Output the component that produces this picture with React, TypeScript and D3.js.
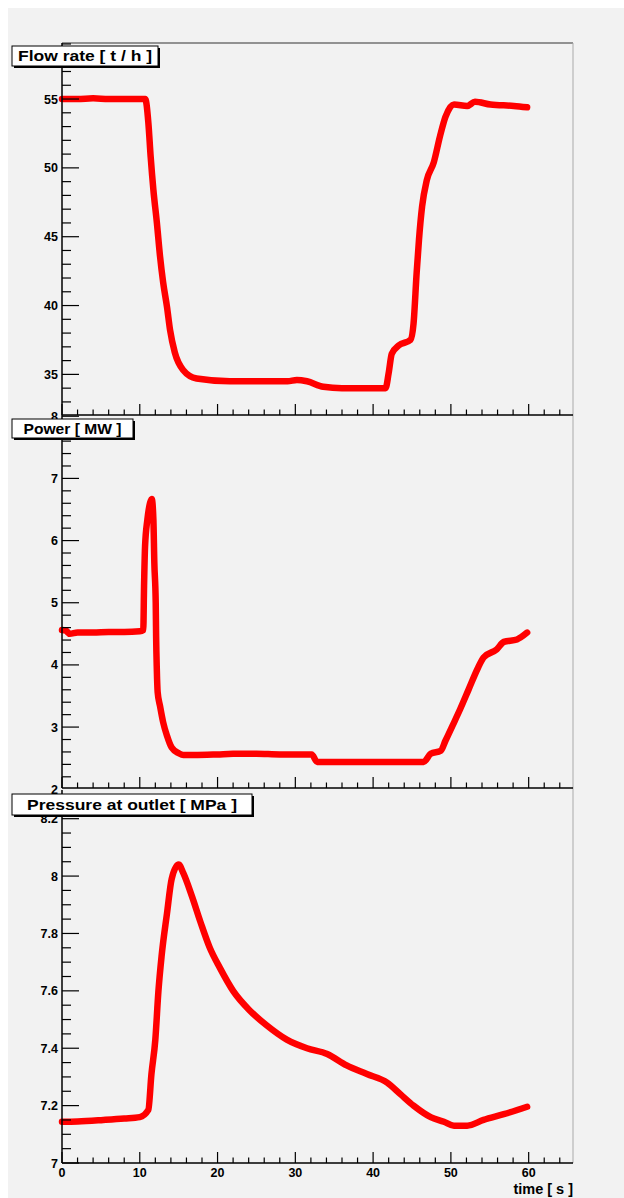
import React from "react";
import * as d3 from "d3";

// ---------- data ----------
const timeMajorTicks = [0, 10, 20, 30, 40, 50, 60];
const timeMinorTicks = [2, 4, 6, 8, 12, 14, 16, 18, 22, 24, 26, 28, 32, 34, 36, 38, 42, 44, 46, 48, 52, 54, 56, 58, 62, 64];

const flowTime = [0, 2, 4, 6, 8, 10, 10.7, 11.1, 11.4, 11.75, 12.2, 12.6, 13.0, 13.5, 13.9, 14.5, 15.6, 17.3, 21.6, 25.9, 29.0, 30.2, 31.5, 33.6, 36, 39.6, 41.6, 42.0, 42.4, 43.3, 44.8, 45.2, 45.6, 45.9, 46.3, 46.9, 47.8, 48.6, 49.3, 50.4, 52.1, 53.1, 55.1, 58.1, 59.8];
const flowValue = [55.0, 55.0, 55.05, 55.0, 55.0, 55.0, 55.0, 53.3, 50.8, 48.4, 46.0, 43.6, 41.7, 39.9, 38.2, 36.6, 35.3, 34.7, 34.5, 34.5, 34.5, 34.6, 34.5, 34.1, 34.0, 34.0, 34.0, 35.1, 36.5, 37.1, 37.5, 38.7, 42.4, 44.8, 47.2, 49.1, 50.4, 52.3, 53.7, 54.6, 54.5, 54.8, 54.6, 54.5, 54.4];
const flowMajorTicks = [35, 40, 45, 50, 55];
const flowMinorTicks = [33, 34, 36, 37, 38, 39, 41, 42, 43, 44, 46, 47, 48, 49, 51, 52, 53, 54, 56, 57, 58, 59];

const powerTime = [0, 0.5, 1, 2, 4, 6, 8, 10, 10.45, 10.55, 10.68, 10.98, 11.33, 11.54, 11.75, 11.87, 12.05, 12.1, 12.19, 12.3, 12.6, 13.0, 13.5, 14.1, 15.0, 15.6, 17, 20, 22, 25, 28, 32.1, 32.8, 36, 40, 44, 46.5, 47.4, 48.7, 49.3, 50.2, 51.2, 52.3, 53.4, 54.2, 55.9, 56.8, 58.5, 59.8];
const powerValue = [4.56, 4.55, 4.50, 4.52, 4.52, 4.53, 4.53, 4.54, 4.56, 5.27, 5.91, 6.34, 6.61, 6.67, 6.34, 5.65, 5.0, 4.47, 3.93, 3.56, 3.34, 3.08, 2.86, 2.67, 2.58, 2.55, 2.55, 2.56, 2.57, 2.57, 2.56, 2.56, 2.44, 2.44, 2.44, 2.44, 2.44, 2.57, 2.62, 2.78, 3.02, 3.29, 3.61, 3.93, 4.12, 4.25, 4.37, 4.41, 4.52];
const powerMajorTicks = [2, 3, 4, 5, 6, 7, 8];
const powerMinorTicks = [2.2, 2.4, 2.6, 2.8, 3.2, 3.4, 3.6, 3.8, 4.2, 4.4, 4.6, 4.8, 5.2, 5.4, 5.6, 5.8, 6.2, 6.4, 6.6, 6.8, 7.2, 7.4, 7.6, 7.8];

const pressureTime = [0, 2, 5.3, 8, 10.0, 11.1, 11.5, 12.0, 12.4, 12.8, 13.5, 14.1, 15.0, 15.6, 16.7, 17.8, 19.0, 20.3, 22.0, 24.2, 26.3, 28.9, 31.5, 34.1, 36.6, 39.2, 41.8, 43.5, 45.2, 47.4, 49.1, 50.4, 52.1, 54.2, 56.8, 59.8];
const pressureValue = [7.144, 7.145, 7.15, 7.155, 7.16, 7.185, 7.31, 7.43, 7.60, 7.72, 7.87, 7.99, 8.04, 8.01, 7.93, 7.84, 7.75, 7.68, 7.60, 7.53, 7.48, 7.43, 7.40, 7.38, 7.34, 7.31, 7.28, 7.24, 7.20, 7.16, 7.144, 7.13, 7.13, 7.15, 7.17, 7.196];
const pressureMajorTicks = [7, 7.2, 7.4, 7.6, 7.8, 8, 8.2];
const pressureMinorTicks = [7.05, 7.1, 7.15, 7.25, 7.3, 7.35, 7.45, 7.5, 7.55, 7.65, 7.7, 7.75, 7.85, 7.9, 7.95, 8.05, 8.1, 8.15, 8.25];

const titles = ["Flow rate [ t / h ]", "Power [ MW ]", "Pressure at outlet [ MPa ]"];
const xTitle = "time [ s ]";

// ---------- layout ----------
const W = 624;
const H = 1198;
const X0 = 62;
const X1 = 573;
const FONT = "'Liberation Sans', Arial, Helvetica, sans-serif";

const xScale = d3.scaleLinear().domain([0, 65.7]).range([X0, X1]);

type PanelProps = {
  top: number;
  bottom: number;
  domain: [number, number];
  majors: number[];
  minors: number[];
  times: number[];
  values: number[];
  showXLabels: boolean;
};

function Panel({ top, bottom, domain, majors, minors, times, values, showXLabels }: PanelProps) {
  const y = d3.scaleLinear().domain(domain).range([bottom, top]);
  const pts = times.map((t, i) => [t, values[i]] as [number, number]);
  const line = d3
    .line<[number, number]>()
    .x((d) => xScale(d[0]))
    .y((d) => y(d[1]))
    .curve(d3.curveMonotoneX);
  const inDomain = (v: number) => v >= domain[0] - 1e-9 && v <= domain[1] + 1e-9;
  return (
    <g>
      <path d={line(pts) || ""} fill="none" stroke="#ff0000" strokeWidth={6.5} strokeLinejoin="round" strokeLinecap="round" />
      {/* y axis */}
      <line x1={X0} x2={X0} y1={top} y2={bottom} stroke="#000" strokeWidth={1.5} />
      {majors.filter(inDomain).map((v) => (
        <line key={"ym" + v} x1={X0} x2={X0 + 17} y1={y(v)} y2={y(v)} stroke="#000" strokeWidth={1.2} />
      ))}
      {minors.filter(inDomain).map((v) => (
        <line key={"yn" + v} x1={X0} x2={X0 + 9} y1={y(v)} y2={y(v)} stroke="#000" strokeWidth={1.2} />
      ))}
      {majors.map((v) => (
        <text key={"yl" + v} x={X0 - 4} y={y(v)} dy="0.36em" textAnchor="end" fontFamily={FONT} fontWeight="bold" fontSize={12.5} fill="#000">
          {String(v)}
        </text>
      ))}
      {/* x axis */}
      <line x1={X0} x2={X1} y1={bottom} y2={bottom} stroke="#000" strokeWidth={1.5} />
      {timeMajorTicks.map((t) => (
        <line key={"xm" + t} x1={xScale(t)} x2={xScale(t)} y1={bottom} y2={bottom - 11} stroke="#000" strokeWidth={1.2} />
      ))}
      {timeMinorTicks.map((t) => (
        <line key={"xn" + t} x1={xScale(t)} x2={xScale(t)} y1={bottom} y2={bottom - 5.5} stroke="#000" strokeWidth={1.2} />
      ))}
      {showXLabels &&
        timeMajorTicks.map((t) => (
          <text key={"xl" + t} x={xScale(t)} y={bottom + 13.5} textAnchor="middle" fontFamily={FONT} fontWeight="bold" fontSize={12.5} fill="#000">
            {String(t)}
          </text>
        ))}
    </g>
  );
}

function TitleBox({ x, y, w, h, tw, text }: { x: number; y: number; w: number; h: number; tw: number; text: string }) {
  return (
    <g>
      <rect x={x + 2} y={y + 2} width={w} height={h} fill="#000" />
      <rect x={x} y={y} width={w} height={h} fill="#fff" stroke="#000" strokeWidth={1} />
      <text
        x={x + w / 2}
        y={y + h / 2}
        dy="0.36em"
        textAnchor="middle"
        textLength={tw}
        lengthAdjust="spacingAndGlyphs"
        fontFamily={FONT}
        fontWeight="bold"
        fontSize={15}
        fill="#000"
      >
        {text}
      </text>
    </g>
  );
}

export default function App() {
  return (
    <svg width={W} height={H} style={{ position: "fixed", left: 0, top: 0, display: "block" }}>
      <rect x={0} y={0} width={W} height={H} fill="#fff" />
      <rect x={8} y={8} width={W - 8} height={H - 8} fill="#f2f2f2" />
      {/* frame top & right */}
      <line x1={X0} x2={X1} y1={43} y2={43} stroke="#333" strokeWidth={1.2} />
      <line x1={X1} x2={X1} y1={43} y2={1163} stroke="#aaa" strokeWidth={1} />

      <Panel top={43} bottom={415} domain={[32.05, 59.07]} majors={flowMajorTicks} minors={flowMinorTicks} times={flowTime} values={flowValue} showXLabels={false} />
      <TitleBox x={12} y={46} w={146} h={20} tw={134} text={titles[0]} />

      <Panel top={415} bottom={788} domain={[2.02, 8.02]} majors={powerMajorTicks} minors={powerMinorTicks} times={powerTime} values={powerValue} showXLabels={false} />
      <TitleBox x={12} y={419} w={121} h={19} tw={98} text={titles[1]} />

      <Panel top={790} bottom={1163} domain={[7.0, 8.3]} majors={pressureMajorTicks} minors={pressureMinorTicks} times={pressureTime} values={pressureValue} showXLabels={true} />
      <TitleBox x={12} y={794} w={240} h={21} tw={210} text={titles[2]} />

      <text x={X1} y={1194} textAnchor="end" fontFamily={FONT} fontWeight="bold" fontSize={14.5} fill="#000">
        {xTitle}
      </text>
    </svg>
  );
}
